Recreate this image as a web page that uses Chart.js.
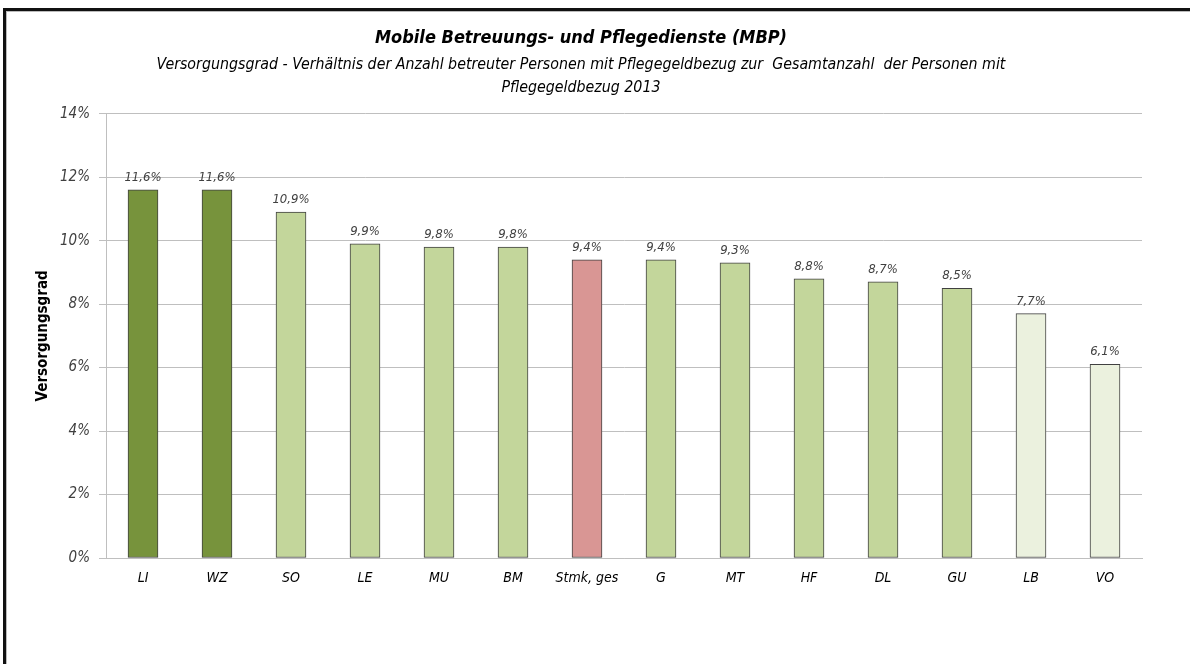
<!DOCTYPE html>
<html>
<head>
<meta charset="utf-8">
<script src="https://cdn.jsdelivr.net/npm/chart.js@4"></script>
<style>
    html, body { margin: 0; padding: 0; background: #fff; overflow: hidden; }
    #frame {
        position: absolute; left: 3px; top: 8px; width: 1300px; height: 800px;
        border-top: 3px solid #111; border-left: 3px solid #111;
        box-shadow: inset 1px 1px 0 #bbb;
    }
    #wrap { position: absolute; left: 0; top: 0; width: 1190px; height: 664px; }
</style>
</head>
<body>
<div id="frame"></div>
<div id="wrap"><canvas id="chart" width="1190" height="664"></canvas></div>
<script>
// chart data
const regions = ['LI', 'WZ', 'SO', 'LE', 'MU', 'BM', 'Stmk, ges', 'G', 'MT', 'HF', 'DL', 'GU', 'LB', 'VO'];
const versorgungsgrad = [11.6, 11.6, 10.9, 9.9, 9.8, 9.8, 9.4, 9.4, 9.3, 8.8, 8.7, 8.5, 7.7, 6.1];
const yTicks = [0, 2, 4, 6, 8, 10, 12, 14];

const dark = '#77933C', light = '#C3D69B', total = '#D99694', pale = '#EBF1DE';
const barColors = [dark, dark, light, light, light, light, total, light, light, light, light, light, pale, pale];

const FONT = "'DejaVu Sans Condensed', 'Liberation Sans Narrow', sans-serif";

// draws the "11,6%" labels above the bars
const valueLabels = {
    id: 'valueLabels',
    afterDatasetsDraw(chart) {
        const ctx = chart.ctx;
        const meta = chart.getDatasetMeta(0);
        ctx.save();
        ctx.font = 'italic 13px ' + FONT;
        ctx.fillStyle = '#404040';
        ctx.textAlign = 'center';
        ctx.textBaseline = 'bottom';
        meta.data.forEach((bar, i) => {
            const txt = versorgungsgrad[i].toFixed(1).replace('.', ',') + '%';
            ctx.fillText(txt, bar.x, bar.y - 6);
        });
        ctx.restore();
    }
};

new Chart(document.getElementById('chart'), {
    type: 'bar',
    data: {
        labels: regions,
        datasets: [{
            data: versorgungsgrad,
            backgroundColor: barColors,
            borderColor: '#404040',
            borderWidth: 1,
            borderSkipped: false,
            barThickness: 30
        }]
    },
    options: {
        responsive: false,
        animation: false,
        layout: { padding: { left: 20, right: 48, top: 0, bottom: 66 } },
        plugins: {
            legend: { display: false },
            tooltip: { enabled: false },
            title: {
                display: true,
                text: 'Mobile Betreuungs- und Pflegedienste (MBP)',
                color: '#000',
                font: { family: FONT, size: 18, style: 'italic', weight: 'bold' },
                padding: { top: 28, bottom: 0 }
            },
            subtitle: {
                display: true,
                text: ['Versorgungsgrad - Verhältnis der Anzahl betreuter Personen mit Pflegegeldbezug zur  Gesamtanzahl  der Personen mit',
                       'Pflegegeldbezug 2013'],
                color: '#000',
                font: { family: FONT, size: 15.8, style: 'italic', lineHeight: 1.46 },
                padding: { top: 4, bottom: 14 }
            }
        },
        scales: {
            x: {
                grid: { display: false, drawTicks: false },
                border: { color: '#BFBFBF' },
                ticks: {
                    color: '#000',
                    padding: 12,
                    font: { family: FONT, size: 14, style: 'italic' }
                },
                afterFit(scale) { scale.height = 40; }
            },
            y: {
                min: 0,
                max: 14,
                afterBuildTicks(scale) { scale.ticks = yTicks.map(v => ({ value: v })); },
                grid: { color: '#BFBFBF', tickLength: 7 },
                border: { color: '#BFBFBF' },
                ticks: {
                    color: '#404040',
                    padding: 9,
                    font: { family: FONT, size: 15, style: 'italic' },
                    callback: v => v + '%'
                },
                title: {
                    display: true,
                    text: 'Versorgungsgrad',
                    color: '#000',
                    font: { family: FONT, size: 15, weight: 'bold' },
                    padding: { top: 14, bottom: 0 }
                },
                afterFit(scale) { scale.width = 86; }
            }
        }
    },
    plugins: [valueLabels]
});
</script>
</body>
</html>
